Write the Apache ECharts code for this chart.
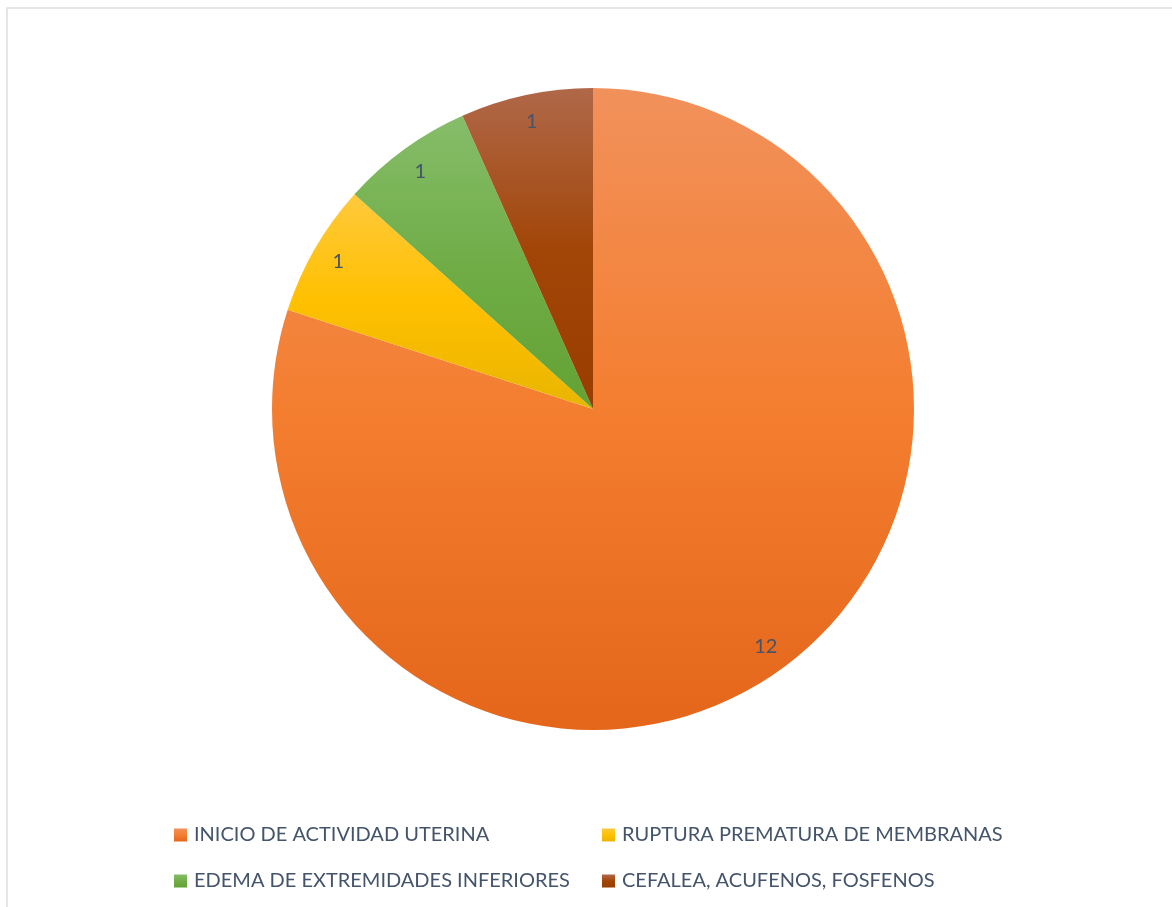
<!DOCTYPE html>
<html>
<head>
<meta charset="utf-8">
<style>
  html, body { margin: 0; padding: 0; background: #ffffff; }
  #chart { width: 1172px; height: 907px; }
</style>
<script src="https://cdn.jsdelivr.net/npm/echarts@6/dist/echarts.min.js"></script>
</head>
<body>
<div id="chart"></div>
<script>
// Motivos de consulta (número de pacientes)
const categories = [
  'INICIO DE ACTIVIDAD UTERINA',
  'RUPTURA PREMATURA DE MEMBRANAS',
  'EDEMA DE EXTREMIDADES INFERIORES',
  'CEFALEA, ACUFENOS, FOSFENOS'
];
const values = [12, 1, 1, 1];

// Gradient stops per slice: light top, base middle, dark bottom
const sliceGradients = [
  ['#F1915B', '#F47E30', '#E4661A'],
  ['#FFC93C', '#FFC000', '#E9B500'],
  ['#86BD6A', '#70AD47', '#63A234'],
  ['#B06849', '#A24608', '#993D00']
];

function grad(stops) {
  return new echarts.graphic.LinearGradient(0, 0, 0, 1, [
    { offset: 0, color: stops[0] },
    { offset: 0.5, color: stops[1] },
    { offset: 1, color: stops[2] }
  ]);
}

const chart = echarts.init(document.getElementById('chart'), null, { renderer: 'canvas' });

const pieData = categories.map((name, i) => ({
  name: name,
  value: values[i],
  itemStyle: { color: grad(sliceGradients[i]) }
}));

const labelRing = categories.map((name, i) => ({ name: name, value: values[i] }));

const legendText = { color: '#44546A', fontSize: 20, fontFamily: 'Lato', padding: [0, 0, 0, 2] };

chart.setOption({
  animation: false,
  graphic: [{
    type: 'rect',
    shape: { x: 7, y: 8, width: 1200, height: 950 },
    style: { fill: 'none', stroke: '#DADDE2', lineWidth: 1.5 },
    silent: true,
    z: -1
  }],
  legend: [
    {
      orient: 'vertical',
      left: 169,
      top: 820,
      itemWidth: 13,
      itemHeight: 13,
      itemGap: 26,
      icon: 'rect',
      textStyle: legendText,
      data: [categories[0], categories[2]]
    },
    {
      orient: 'vertical',
      left: 597,
      top: 820,
      itemWidth: 13,
      itemHeight: 13,
      itemGap: 26,
      icon: 'rect',
      textStyle: legendText,
      data: [categories[1], categories[3]]
    }
  ],
  series: [
    {
      type: 'pie',
      center: [593, 409],
      radius: [0, 321],
      startAngle: 90,
      clockwise: true,
      label: { show: false },
      labelLine: { show: false },
      emphasis: { disabled: true },
      data: pieData
    },
    {
      // transparent ring that carries the value labels near the rim
      type: 'pie',
      center: [593, 409],
      radius: [264, 318],
      startAngle: 90,
      clockwise: true,
      silent: true,
      itemStyle: { color: 'rgba(0,0,0,0)' },
      label: {
        show: true,
        position: 'inside',
        formatter: '{c}',
        color: '#44546A',
        fontSize: 20,
        fontFamily: 'Lato'
      },
      labelLine: { show: false },
      emphasis: { disabled: true },
      data: labelRing
    }
  ]
});
</script>
</body>
</html>
